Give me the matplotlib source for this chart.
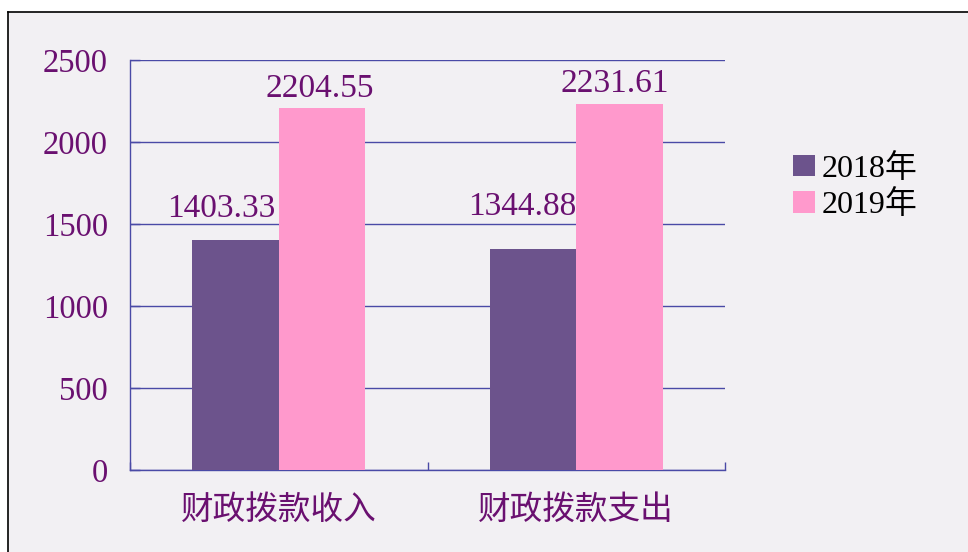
import matplotlib
matplotlib.use("Agg")
import matplotlib.pyplot as plt
from matplotlib.patches import Rectangle, Patch
from matplotlib.lines import Line2D
import numpy as np

categories = ["财政拨款收入", "财政拨款支出"]
series_names = ["2018年", "2019年"]
values_2018 = [1403.33, 1344.88]
values_2019 = [2204.55, 2231.61]
value_labels_2018 = ["1403.33", "1344.88"]
value_labels_2019 = ["2204.55", "2231.61"]
y_ticks = [0, 500, 1000, 1500, 2000, 2500]

BG = "#F2F0F3"
C18 = "#6C538C"
C19 = "#FF99CC"
GRID = "#4A4AA6"
TXT = "#6A1070"

# label offsets (points) relative to bar top-centre
off_2018 = [(-10, 16.5), (-8, 24.5)]
off_2019 = [(-1.5, 8.5), (-3, 8.5)]

W, H = 968, 552
fig = plt.figure(figsize=(W / 100, H / 100), dpi=100)
fig.patch.set_facecolor("white")

# panel background with black top/left border
fig.patches.append(Rectangle((8 / W, -0.01), 1.0, 1 - 12 / H + 0.01, transform=fig.transFigure,
                             facecolor=BG, edgecolor="none", zorder=-10))
fig.lines.append(Line2D([8 / W, 8 / W], [0, 1 - 12 / H], transform=fig.transFigure, color="black", lw=1.2, zorder=-5))
fig.lines.append(Line2D([8 / W, 1.0], [1 - 12 / H, 1 - 12 / H], transform=fig.transFigure, color="black", lw=1.2, zorder=-5))

ax = fig.add_axes([130 / W, 1 - 470 / H, (725 - 130) / W, (470 - 60) / H])
ax.set_zorder(2)
ax.set_facecolor(BG)

x = np.arange(len(categories))
bw = 0.29
b1 = ax.bar(x - bw / 2, values_2018, bw, color=C18, zorder=3, label=series_names[0])
b2 = ax.bar(x + bw / 2, values_2019, bw, color=C19, zorder=3, label=series_names[1])

ax.set_xlim(-0.5, 1.5)
ax.set_ylim(0, 2500)
ax.set_yticks(y_ticks)
ax.set_yticklabels([str(t) for t in y_ticks], fontfamily="Liberation Serif", fontsize=23.5, color=TXT)
ax.yaxis.grid(True, color=GRID, lw=1, zorder=1)
ax.set_axisbelow(True)

ax.set_xticks(x)
ax.set_xticklabels(categories, fontfamily=["Noto Sans CJK SC"], fontsize=23.5, color=TXT)
ax.set_xticks([-0.5, 0.5, 1.5], minor=True)
ax.tick_params(axis="x", which="major", length=0, pad=17)
ax.tick_params(axis="x", which="minor", direction="in", length=6, color=GRID, width=1)
ax.tick_params(axis="y", direction="in", length=7, color=GRID, width=1, pad=16)

for s in ["top", "right"]:
    ax.spines[s].set_visible(False)
for s in ["left", "bottom"]:
    ax.spines[s].set_color(GRID)
    ax.spines[s].set_linewidth(1)

for rect, lab, off in zip(b1, value_labels_2018, off_2018):
    ax.annotate(lab, (rect.get_x() + rect.get_width() / 2, rect.get_height()),
                xytext=off, textcoords="offset points",
                ha="center", va="baseline", fontfamily="Liberation Serif", fontsize=24, color=TXT)
for rect, lab, off in zip(b2, value_labels_2019, off_2019):
    ax.annotate(lab, (rect.get_x() + rect.get_width() / 2, rect.get_height()),
                xytext=off, textcoords="offset points",
                ha="center", va="baseline", fontfamily="Liberation Serif", fontsize=24, color=TXT)

handles = [Patch(facecolor=C18, edgecolor="none"), Patch(facecolor=C19, edgecolor="none")]
leg = fig.legend(handles, series_names, loc="upper left", bbox_to_anchor=(793 / W, 1 - 154 / H),
                 frameon=False, prop={"family": ["Liberation Serif", "Noto Sans CJK SC"], "size": 23},
                 handlelength=0.7, handleheight=0.65, handletextpad=0.2, labelspacing=0.2,
                 borderpad=0, borderaxespad=0)

fig.savefig("out.png", dpi=100, facecolor=fig.get_facecolor())
